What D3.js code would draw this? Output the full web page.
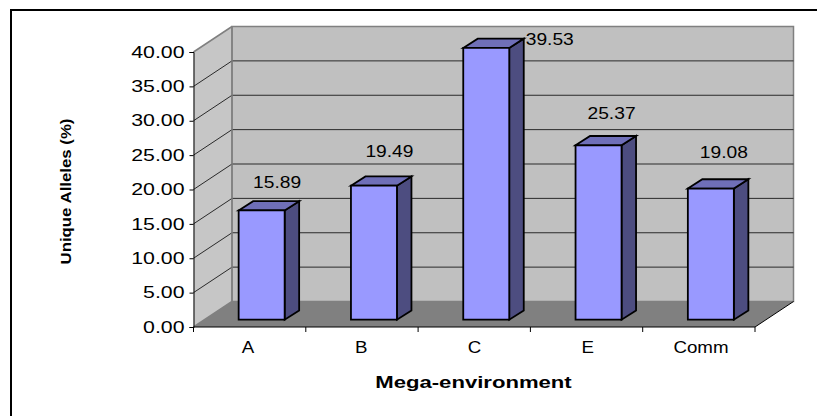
<!DOCTYPE html>
<html>
<head>
<meta charset="utf-8">
<script src="https://cdn.jsdelivr.net/npm/d3@7/dist/d3.min.js"></script>
<style>
  html, body { margin: 0; padding: 0; background: #fff; }
  svg { display: block; }
  text { font-family: "Liberation Sans", Arial, sans-serif; fill: #000; }
</style>
</head>
<body>
<svg id="chart" width="817" height="416"></svg>
<script>
const categories = ["A", "B", "C", "E", "Comm"];
const uniqueAlleles = [15.89, 19.49, 39.53, 25.37, 19.08];
const valueTicks = [0, 5, 10, 15, 20, 25, 30, 35, 40];
const valueAxisTitle = "Unique Alleles (%)";
const categoryAxisTitle = "Mega-environment";

const svg = d3.select("#chart");

// Front plane of the box, and the shift from front to back wall
const x = d3.scaleBand().domain(categories).range([193.5, 755]);
const y = d3.scaleLinear().domain([0, 40]).range([327, 52]);
const depth = { dx: 38.5, dy: -25.5 };
const barShift = { dx: 12, dy: -7.3 };   // bars stand part-way into the box
const barDepth = { dx: 14.5, dy: -9.3 };
const barWidth = 46;

const poly = (pts, fill, stroke, sw) => svg.append("polygon")
  .attr("points", pts.map(p => p.join(",")).join(" "))
  .attr("fill", fill)
  .attr("stroke", stroke || "none")
  .attr("stroke-width", sw || 0)
  .attr("stroke-linejoin", "miter");

// Widen set type to the chart's stretched letterforms
const stretch = (sel, k) => sel.each(function () {
  d3.select(this)
    .attr("textLength", this.getComputedTextLength() * k)
    .attr("lengthAdjust", "spacingAndGlyphs");
});

// Outer chart frame (left and top edges)
svg.append("path")
  .attr("d", "M11,416V10H817")
  .attr("fill", "none").attr("stroke", "#000").attr("stroke-width", 2);

const [xL, xR] = x.range();
const y0 = y(0), yT = y(40);

// Side wall, back wall, floor
poly([[xL, y0], [xL + depth.dx, y0 + depth.dy], [xL + depth.dx, yT + depth.dy], [xL, yT]], "#c6c6c6");
poly([[xL + depth.dx, y0 + depth.dy], [xR + depth.dx, y0 + depth.dy], [xR + depth.dx, yT + depth.dy], [xL + depth.dx, yT + depth.dy]], "#c0c0c0", "#808080", 1.5);
poly([[xL, y0], [xR, y0], [xR + depth.dx, y0 + depth.dy], [xL + depth.dx, y0 + depth.dy]], "#808080");

// Gridlines run along the side wall then across the back wall
const grid = svg.append("g").attr("fill", "none").attr("stroke", "#2a2a2a").attr("stroke-width", 1);
valueTicks.slice(1, -1).forEach(t => {
  grid.append("path").attr("d",
    `M${xL},${y(t)}L${xL + depth.dx},${y(t) + depth.dy}H${xR + depth.dx}`);
});

// Box edges at the back
svg.append("path")
  .attr("d", `M${xL},${yT}L${xL + depth.dx},${yT + depth.dy}M${xL + depth.dx},${y0 + depth.dy}V${yT + depth.dy}M${xL},${y0}L${xL + depth.dx},${y0 + depth.dy}`)
  .attr("fill", "none").attr("stroke", "#808080").attr("stroke-width", 1.5);

// Right floor edge
svg.append("path")
  .attr("d", `M${xR},${y0}L${xR + depth.dx},${y0 + depth.dy}`)
  .attr("fill", "none").attr("stroke", "#000").attr("stroke-width", 1);

// Value axis
const yAxis = svg.append("g").attr("transform", `translate(${xL},0)`)
  .call(d3.axisLeft(y).tickValues(valueTicks).tickFormat(d3.format(".2f")).tickSize(4).tickPadding(5));
yAxis.select(".domain").attr("stroke", "#000").attr("stroke-width", 1);
yAxis.selectAll("text").attr("font-size", 16)
  .style("font-family", '"Liberation Sans", Arial, sans-serif')
  .call(stretch, 1.33);

// Category axis: ticks fall between the bands, labels sit under the bars
const xAxisG = svg.append("g").attr("stroke", "#000");
xAxisG.append("line").attr("x1", xL).attr("x2", xR).attr("y1", y0).attr("y2", y0);
const bounds = categories.map(c => x(c)).concat(xR);
xAxisG.selectAll("line.tick").data(bounds).join("line").attr("class", "tick")
  .attr("x1", d => d).attr("x2", d => d).attr("y1", y0).attr("y2", y0 + 5);
const labelX = d3.scalePoint().domain(categories).range([248, 701]);
svg.append("g").selectAll("text").data(categories).join("text")
  .attr("x", c => labelX(c))
  .attr("y", 353)
  .attr("text-anchor", "middle")
  .attr("font-size", 16)
  .text(c => c)
  .call(stretch, 1.17);

// Bars
const barX = c => x(c) + (x.bandwidth() - barWidth) / 2 + barShift.dx;
categories.forEach((c, i) => {
  const v = uniqueAlleles[i];
  const l = barX(c), r = l + barWidth;
  const b = y(0) + barShift.dy, t = y(v) + barShift.dy;
  const stroke = "#000";
  poly([[r, t], [r + barDepth.dx, t + barDepth.dy], [r + barDepth.dx, b + barDepth.dy], [r, b]], "#4d4d80", stroke, 1.8);
  poly([[l, t], [l + barDepth.dx, t + barDepth.dy], [r + barDepth.dx, t + barDepth.dy], [r, t]], "#6f6fb8", stroke, 1.8);
  poly([[l, t], [r, t], [r, b], [l, b]], "#9999ff", stroke, 1.8);
});

// Value labels, placed relative to the top of each bar
const labelRise = [22.4, 28.7, 3, 26, 30.6];
const labelDx = [15.5, 15.5, 63.5, 13, 13];
svg.append("g").selectAll("text").data(uniqueAlleles).join("text")
  .attr("x", (d, i) => barX(categories[i]) + barWidth / 2 + labelDx[i])
  .attr("y", (d, i) => y(d) + barShift.dy - labelRise[i])
  .attr("text-anchor", "middle")
  .attr("font-size", 16)
  .text(d => d.toFixed(2))
  .call(stretch, 1.2);

// Axis titles
svg.append("text")
  .attr("transform", "translate(71,191.5) rotate(-90)")
  .attr("text-anchor", "middle")
  .attr("font-size", 14)
  .attr("font-weight", "bold")
  .text(valueAxisTitle)
  .call(stretch, 1.2);
svg.append("text")
  .attr("x", 473.5).attr("y", 388)
  .attr("text-anchor", "middle")
  .attr("font-size", 17)
  .attr("font-weight", "bold")
  .text(categoryAxisTitle)
  .call(stretch, 1.3);
</script>
</body>
</html>
